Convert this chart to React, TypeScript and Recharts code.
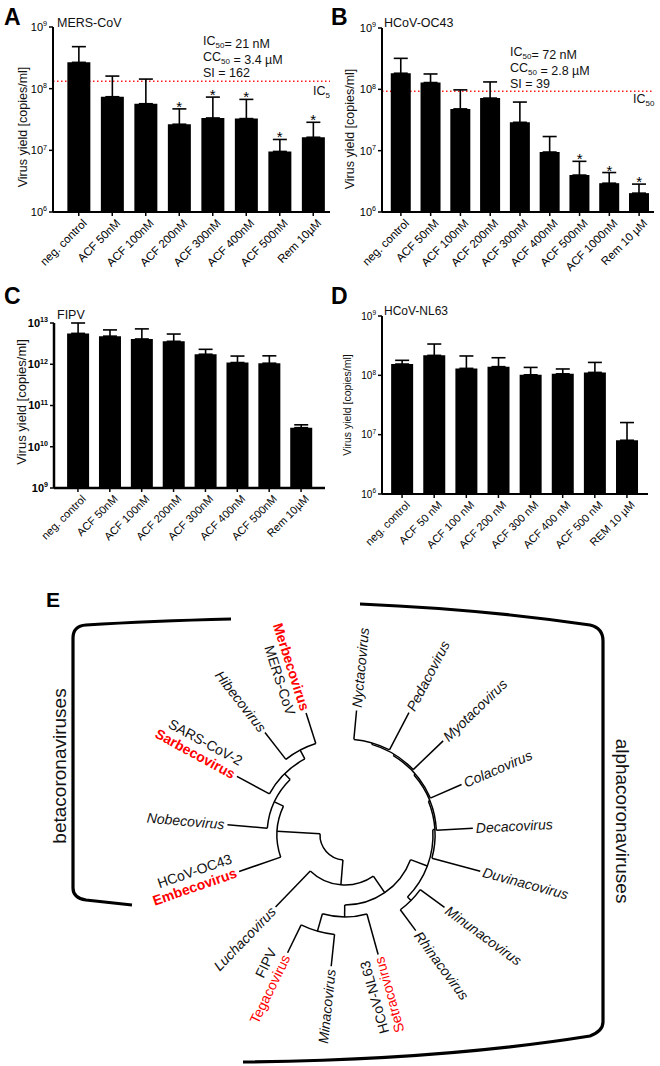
import React from 'react'
import {
  ComposedChart, Bar, Line, XAxis, YAxis, ErrorBar, ReferenceLine,
} from 'recharts'

const FONT = '"Liberation Sans", Arial, Helvetica, sans-serif'

// A: MERS-CoV
const mersCats = ['neg. control', 'ACF 50nM', 'ACF 100nM', 'ACF 200nM', 'ACF 300nM', 'ACF 400nM', 'ACF 500nM', 'Rem 10µM']
const mersMean = [2.67e8, 7.4e7, 5.7e7, 2.65e7, 3.35e7, 3.27e7, 9.6e6, 1.63e7]
const mersTop = [4.8e8, 1.6e8, 1.43e8, 4.7e7, 7.3e7, 6.7e7, 1.5e7, 2.85e7]
const mersSig = [false, false, false, true, true, true, true, true]
const mersIC50 = 1.32e8

// B: HCoV-OC43
const oc43Cats = ['neg. control', 'ACF 50nM', 'ACF 100nM', 'ACF 200nM', 'ACF 300nM', 'ACF 400nM', 'ACF 500nM', 'ACF 1000nM', 'Rem 10 µM']
const oc43Mean = [1.83e8, 1.29e8, 4.8e7, 7.2e7, 2.9e7, 9.5e6, 4.0e6, 2.95e6, 2.03e6]
const oc43Top = [3.2e8, 1.78e8, 9.8e7, 1.32e8, 6.2e7, 1.7e7, 6.7e6, 4.4e6, 2.85e6]
const oc43Sig = [false, false, false, false, false, false, true, true, true]
const oc43IC50 = 9.3e7

// C: FIPV
const fipvCats = ['neg. control', 'ACF 50nM', 'ACF 100nM', 'ACF 200nM', 'ACF 300nM', 'ACF 400nM', 'ACF 500nM', 'Rem 10µM']
const fipvMean = [5.6e12, 4.8e12, 4.1e12, 3.6e12, 1.75e12, 1.1e12, 1.06e12, 2.9e10]
const fipvTop = [1.0e13, 6.8e12, 7.2e12, 5.4e12, 2.3e12, 1.58e12, 1.6e12, 3.4e10]
const fipvSig = [false, false, false, false, false, false, false, false]

// D: HCoV-NL63
const nl63Cats = ['neg. control', 'ACF 50 nM', 'ACF 100 nM', 'ACF 200 nM', 'ACF 300 nM', 'ACF 400 nM', 'ACF 500 nM', 'REM 10 µM']
const nl63Mean = [1.55e8, 2.17e8, 1.31e8, 1.4e8, 1.02e8, 1.06e8, 1.12e8, 8.05e6]
const nl63Top = [1.79e8, 3.37e8, 2.12e8, 1.98e8, 1.36e8, 1.28e8, 1.65e8, 1.6e7]
const nl63Sig = [false, false, false, false, false, false, false, false]

const ticks6to9 = [1e6, 1e7, 1e8, 1e9]
const ticks9to13 = [1e9, 1e10, 1e11, 1e12, 1e13]

// E: tree leaves (angle in degrees, svg orientation, measured from the tree centre)
const leafNames = ['Merbecovirus', 'Hibecovirus', 'Sarbecovirus', 'Nobecovirus', 'Embecovirus', 'Luchacovirus',
  'Tegacovirus', 'Minacovirus', 'Setracovirus', 'Rhinacovirus', 'Minunacovirus', 'Duvinacovirus',
  'Decacovirus', 'Colacovirus', 'Myotacovirus', 'Pedacovirus', 'Nyctacovirus']
const leafAngle = [252.3, 232, 208.5, 185, 161, 134, 116, 96, 74.5, 53.5, 36, 15, -3, -23.4, -43.8, -62.4, -84.7]
const leafOuter = [128, 130, 123, 118, 112, 100, 131, 132, 124, 119, 123, 140, 128, 127, 136, 138, 125]
const leafKind = ['redBold', 'it', 'redBold', 'it', 'redBold', 'it', 'red', 'it', 'red', 'it', 'it', 'it', 'it', 'it', 'it', 'it', 'it']
const leafVirus = ['MERS-CoV', '', 'SARS-CoV-2', '', 'HCoV-OC43', '', 'FIPV', '', 'HCoV-NL63', '', '', '', '', '', '', '', '']
const virusSide = [1, 0, -1, 0, -1, 0, -1, 0, -1, 0, 0, 0, 0, 0, 0, 0, 0]

type TNode = { leaf?: number; r?: number; kids?: TNode[]; angle?: number }
const L = (i: number): TNode => ({ leaf: i })
const N = (r: number, ...kids: TNode[]): TNode => ({ r, kids })

const treeTopo = N(25,
  N(68, L(4), N(78, L(3), N(86, L(2), N(96, L(1), L(0))))),
  N(50,
    N(70,
      N(82, L(8), N(100, L(7), L(6))),
      N(88, N(93, L(10), L(9)),
        N(90, L(11), N(91.5, L(12), N(93, L(13), N(94.5, L(14), N(96, L(15), L(16)))))))),
    L(5)),
)

const CX = 345
const CY = 835
const rad = (a: number) => (a * Math.PI) / 180
const pol = (a: number, r: number) => [CX + r * Math.cos(rad(a)), CY + r * Math.sin(rad(a))]

function layout(n: TNode): number {
  if (n.leaf !== undefined) return (n.angle = leafAngle[n.leaf])
  const as = n.kids!.map(layout)
  n.angle = (Math.min(...as) + Math.max(...as)) / 2
  return n.angle
}

function treePaths(n: TNode, out: string[]) {
  if (!n.kids) return
  const as = n.kids.map((k) => k.angle!)
  const a1 = Math.min(...as)
  const a2 = Math.max(...as)
  const [x1, y1] = pol(a1, n.r!)
  const [x2, y2] = pol(a2, n.r!)
  out.push(`M${x1} ${y1} A${n.r} ${n.r} 0 ${a2 - a1 > 180 ? 1 : 0} 1 ${x2} ${y2}`)
  n.kids.forEach((k) => {
    const rEnd = k.leaf !== undefined ? leafOuter[k.leaf] : k.r!
    const [sx, sy] = pol(k.angle!, n.r!)
    const [ex, ey] = pol(k.angle!, rEnd)
    out.push(`M${sx} ${sy} L${ex} ${ey}`)
    treePaths(k, out)
  })
}

function PowTick(props: any) {
  const { x, y, payload, size = 11, bold } = props
  const exp = Math.round(Math.log10(payload.value))
  return (
    <text x={x} y={y} dy="0.36em" textAnchor="end" fontSize={size} fontFamily={FONT}
      fontWeight={bold ? 'bold' : 'normal'} fill="#000">
      10<tspan fontSize={size * 0.65} dy={-size * 0.42}>{exp}</tspan>
    </text>
  )
}

function SlantTick(props: any) {
  const { x, y, payload, size = 11 } = props
  return (
    <g transform={`translate(${x + 3},${y})`}>
      <text textAnchor="end" transform="rotate(-45)" dy="0.72em" fontSize={size} fontFamily={FONT} fill="#000">
        {payload.value}
      </text>
    </g>
  )
}

function StarDot(p: any) {
  if (p.value == null || p.cy == null || Number.isNaN(p.cy)) return <g key={p.index} />
  return (
    <text key={p.index} x={p.cx} y={p.cy + 3} textAnchor="middle" fontSize={15} fontFamily={FONT} fill="#000">*</text>
  )
}

function Panel(props: any) {
  const { cats, mean, top, sig, domain, ticks, ic50, box, margin, yWidth, pad, xHeight, tickFont = 11, yFont = 11, boldY, axisW = 2 } = props
  const data = cats.map((c: string, i: number) => ({
    name: c,
    mean: mean[i],
    err: [0, top[i] - mean[i]],
    star: sig[i] ? top[i] : null,
  }))
  return (
    <div style={{ position: 'absolute', left: box[0], top: box[1] }}>
      <ComposedChart width={box[2]} height={box[3]} data={data} margin={margin} barCategoryGap="16%">
        <XAxis dataKey="name" interval={0} padding={pad} height={xHeight} tickSize={4} tickMargin={2}
          axisLine={{ stroke: '#000', strokeWidth: axisW }} tickLine={{ stroke: '#000', strokeWidth: 1.5 }}
          tick={<SlantTick size={tickFont} />} />
        <YAxis type="number" scale="log" domain={domain} ticks={ticks} interval={0} allowDataOverflow
          width={yWidth} tickSize={4} tickMargin={2}
          axisLine={{ stroke: '#000', strokeWidth: axisW }} tickLine={{ stroke: '#000', strokeWidth: 1.5 }}
          tick={<PowTick size={yFont} bold={boldY} />} />
        {ic50 ? (
          <ReferenceLine y={ic50} stroke="#ff1a1a" strokeWidth={1.3} strokeDasharray="1.5 2.5" zIndex={-10} />
        ) : null}
        <Bar dataKey="mean" fill="#000" isAnimationActive={false}>
          <ErrorBar dataKey="err" width={7} stroke="#000" strokeWidth={1.6} direction="y" />
        </Bar>
        <Line dataKey="star" stroke="none" dot={StarDot} activeDot={false} isAnimationActive={false} />
      </ComposedChart>
    </div>
  )
}

function Sub({ children }: any) {
  return <><tspan fontSize={8} dy={3}>{children}</tspan><tspan dy={-3}>{''}</tspan></>
}

export default function App() {
  layout(treeTopo)
  const paths: string[] = []
  treePaths(treeTopo, paths)

  const labels = leafNames.map((name, i) => {
    const a = leafAngle[i]
    const norm = ((a % 360) + 360) % 360
    const flip = norm > 70 && norm < 270
    const [lx, ly] = pol(a, leafOuter[i] + 3)
    const rot = flip ? a - 180 : a
    const anchor = flip ? 'end' : 'start'
    const kind = leafKind[i]
    const fill = kind === 'it' ? '#111' : '#ff0000'
    return (
      <g key={name} transform={`translate(${lx},${ly}) rotate(${rot})`}>
        <text x={0} y={0} dy="0.35em" textAnchor={anchor} fontSize={14} fontFamily={FONT} fill={fill}
          fontStyle={kind === 'it' ? 'italic' : 'normal'} fontWeight={kind === 'redBold' ? 'bold' : 'normal'}>
          {name}
        </text>
        {leafVirus[i] ? (
          <text x={0} y={virusSide[i] * 15} dy="0.35em" textAnchor={anchor} fontSize={14} fontFamily={FONT} fill="#111">
            {leafVirus[i]}
          </text>
        ) : null}
      </g>
    )
  })

  return (
    <div style={{ position: 'absolute', left: 0, top: 0, width: 660, height: 1066, background: '#fff', fontFamily: FONT }}>
      <Panel cats={mersCats} mean={mersMean} top={mersTop} sig={mersSig} domain={[1e6, 1e9]} ticks={ticks6to9}
        ic50={mersIC50} box={[0, 0, 330, 290]} margin={{ top: 27, right: 0, left: 0, bottom: 0 }}
        yWidth={53} pad={{ left: 9, right: 0 }} xHeight={78} tickFont={11.5} />
      <Panel cats={oc43Cats} mean={oc43Mean} top={oc43Top} sig={oc43Sig} domain={[1e6, 1e9]} ticks={ticks6to9}
        ic50={oc43IC50} box={[330, 0, 330, 290]} margin={{ top: 28, right: 6, left: 0, bottom: 0 }}
        yWidth={52} pad={{ left: 4, right: 0 }} xHeight={78} tickFont={11.5} />
      <Panel cats={fipvCats} mean={fipvMean} top={fipvTop} sig={fipvSig} domain={[1e9, 1e13]} ticks={ticks9to13}
        box={[0, 296, 330, 260]} margin={{ top: 27, right: 5, left: 0, bottom: 0 }}
        yWidth={54} pad={{ left: 8, right: 8 }} xHeight={68} tickFont={11} boldY axisW={2.5} />
      <Panel cats={nl63Cats} mean={nl63Mean} top={nl63Top} sig={nl63Sig} domain={[1e6, 1e9]} ticks={ticks6to9}
        box={[330, 296, 330, 260]} margin={{ top: 20, right: 12, left: 0, bottom: 0 }}
        yWidth={52} pad={{ left: 4, right: 5 }} xHeight={62} tickFont={11} yFont={10} />

      <svg width={660} height={1066} style={{ position: 'absolute', left: 0, top: 0, pointerEvents: 'none' }}
        fontFamily={FONT}>
        <g fontWeight="bold" fontSize={23} fill="#000">
          <text x={4} y={25}>A</text>
          <text x={331} y={25}>B</text>
          <text x={4} y={304}>C</text>
          <text x={331} y={304}>D</text>
          <text x={46} y={607} fontSize={21}>E</text>
        </g>
        <g fontSize={12.5} fill="#111">
          <text x={57} y={27}>MERS-CoV</text>
          <text x={384} y={27}>HCoV-OC43</text>
          <text x={57} y={319}>FIPV</text>
          <text x={384} y={315} fontSize={12}>HCoV-NL63</text>
        </g>
        <g fill="#111">
          <text transform="translate(27,127) rotate(-90)" textAnchor="middle" fontSize={12.5}>Virus yield [copies/ml]</text>
          <text transform="translate(354,129) rotate(-90)" textAnchor="middle" fontSize={12.5}>Virus yield [copies/ml]</text>
          <text transform="translate(26,402) rotate(-90)" textAnchor="middle" fontSize={13}>Virus yield [copies/ml]</text>
          <text transform="translate(351,405) rotate(-90)" textAnchor="middle" fontSize={10.5}>Virus yield [copies/ml]</text>
        </g>
        <g fontSize={12.5} fill="#111">
          <text x={203} y={45}>IC<Sub>50</Sub>= 21 nM</text>
          <text x={203} y={61}>CC<Sub>50</Sub> = 3.4 µM</text>
          <text x={203} y={77}>SI = 162</text>
          <text x={510} y={56}>IC<Sub>50</Sub>= 72 nM</text>
          <text x={510} y={72}>CC<Sub>50</Sub> = 2.8 µM</text>
          <text x={510} y={88}>SI = 39</text>
          <svg x={0} y={0} width={330} height={290}>
            <text x={313} y={95}>IC<Sub>50</Sub></text>
          </svg>
          <text x={633} y={103}>IC<Sub>50</Sub></text>
        </g>

        <g fill="none" stroke="#000" strokeWidth={1.5}>
          {paths.map((d, i) => <path key={i} d={d} />)}
        </g>
        {labels}

        <g fill="none" stroke="#000" strokeWidth={3.2}>
          <path d="M231 619 Q150 621 86 625 Q73 626 73 638 L73 888 Q73 898 86 900 L132 905" />
          <path d="M360 604 Q480 609 590 625 Q603 628 603 641 L603 1022 Q603 1031 590 1036 Q440 1060 243 1062" />
        </g>
        <text transform="translate(66,766) rotate(-90)" textAnchor="middle" fontSize={19} fill="#111">betacoronaviruses</text>
        <text transform="translate(616,821) rotate(90)" textAnchor="middle" fontSize={19} fill="#111">alphacoronaviruses</text>
      </svg>
    </div>
  )
}
